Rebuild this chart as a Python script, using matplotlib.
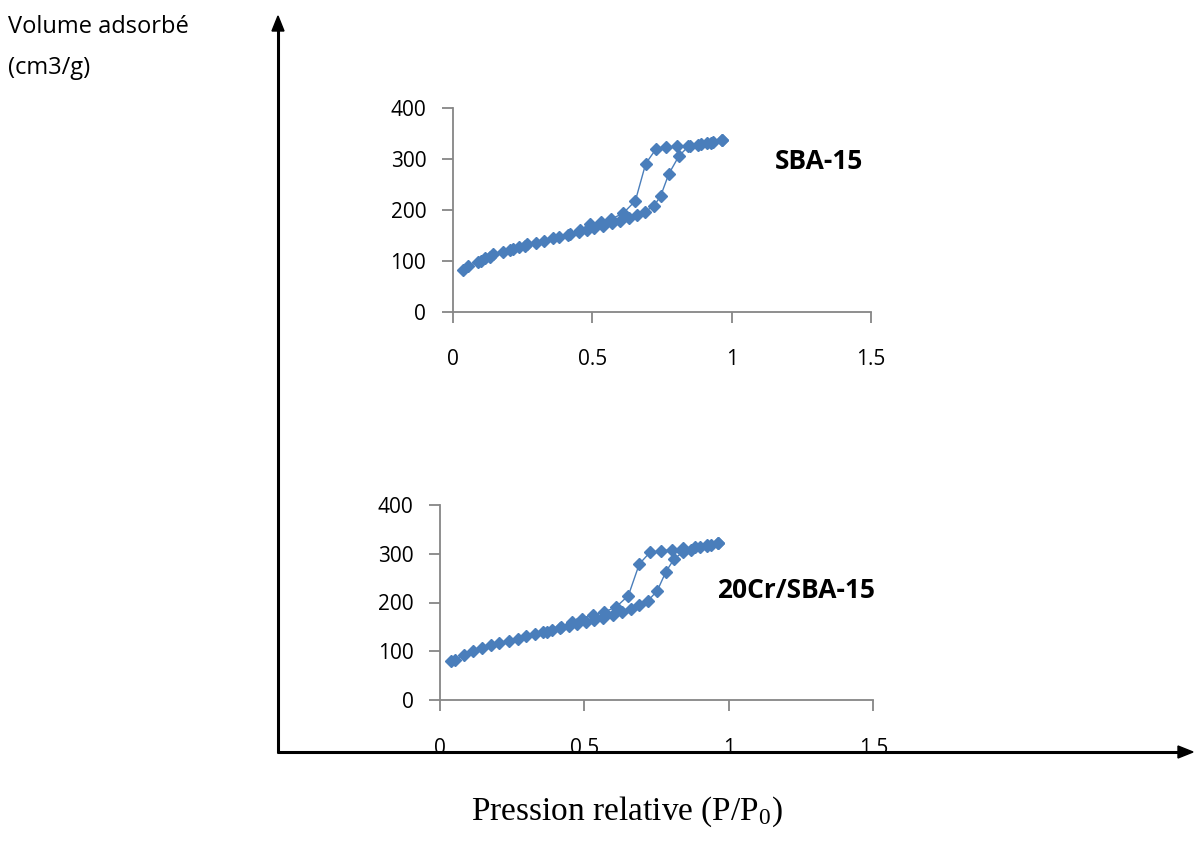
import matplotlib
matplotlib.use("Agg")
import matplotlib.pyplot as plt

# ---- data: SBA-15 ----
sba_ads_x = [0.036, 0.056, 0.092, 0.100, 0.116, 0.134, 0.146, 0.179, 0.206, 0.215,
             0.239, 0.259, 0.268, 0.299, 0.329, 0.361, 0.381, 0.415, 0.454, 0.481,
             0.507, 0.538, 0.570, 0.600, 0.632, 0.660, 0.690, 0.722, 0.746, 0.775,
             0.811, 0.845, 0.881, 0.911, 0.935, 0.965]
sba_ads_y = [82, 90, 98, 100, 105, 108, 113, 117, 121, 123,
             127, 129, 133, 136, 140, 144, 146, 151, 156, 161,
             165, 169, 174, 179, 185, 190, 197, 208, 228, 271,
             306, 325, 328, 331, 333, 337]
sba_des_x = [0.965, 0.925, 0.890, 0.850, 0.803, 0.765, 0.729, 0.692, 0.655, 0.612,
             0.568, 0.531, 0.492, 0.455, 0.420]
sba_des_y = [337, 332, 329, 326, 325, 323, 320, 291, 218, 194,
             182, 177, 172, 160, 152]

# ---- data: 20Cr/SBA-15 ----
cr_ads_x = [0.037, 0.052, 0.083, 0.115, 0.147, 0.177, 0.204, 0.239, 0.269, 0.298,
            0.329, 0.358, 0.372, 0.387, 0.415, 0.448, 0.475, 0.504, 0.534, 0.565,
            0.598, 0.629, 0.660, 0.689, 0.719, 0.752, 0.782, 0.810, 0.840, 0.868,
            0.900, 0.925, 0.937, 0.961]
cr_ads_y = [79, 83, 93, 100, 106, 112, 116, 122, 126, 131,
            135, 139, 140, 143, 148, 152, 155, 159, 164, 168,
            174, 180, 187, 194, 203, 224, 263, 289, 303, 308,
            313, 316, 317, 323]
cr_des_x = [0.961, 0.925, 0.883, 0.842, 0.804, 0.764, 0.727, 0.690, 0.652, 0.608,
            0.569, 0.531, 0.490, 0.456, 0.420]
cr_des_y = [323, 318, 314, 311, 308, 306, 303, 279, 214, 190,
            181, 174, 167, 159, 150]

x_ticks = [0, 0.5, 1, 1.5]
x_ticklabels = ["0", "0.5", "1", "1.5"]
y_ticks = [0, 100, 200, 300, 400]
y_ticklabels = ["0", "100", "200", "300", "400"]

FONT = "Open Sans"
BLUE = "#4A7EBB"
GRAY = "#868686"
W, H = 1195, 857

fig = plt.figure(figsize=(W / 100, H / 100), dpi=100)

# Overlay for arrows/axis titles (pixel coordinates)
ov = fig.add_axes([0, 0, 1, 1])
ov.set_xlim(0, W)
ov.set_ylim(H, 0)
ov.axis("off")
ov.plot([278, 278], [753, 30], color="black", lw=2.2, solid_capstyle="butt")
ov.plot([277, 1180], [752, 752], color="black", lw=2.2, solid_capstyle="butt")
ov.fill([272, 284, 278], [31, 31, 16], color="black")
ov.fill([1178, 1178, 1193], [746, 758, 752], color="black")
ov.text(8, 27, "Volume adsorbé", fontsize=17, family=FONT, va="center", ha="left")
ov.text(8, 68, "(cm3/g)", fontsize=17, family=FONT, va="center", ha="left")
ov.text(627, 812, "Pression relative (P/P$\\mathregular{_0}$)", fontsize=24,
        family="Liberation Serif", va="center", ha="center")


def make_axes(rect, ax_x, ax_y, dx, dy, label, lx, ly):
    ax = fig.add_axes(rect)
    ax.patch.set_alpha(0)
    for s in ("top", "right"):
        ax.spines[s].set_visible(False)
    for s in ("left", "bottom"):
        ax.spines[s].set_color(GRAY)
        ax.spines[s].set_linewidth(1.3)
    ax.plot(ax_x, ax_y, color=BLUE, lw=1.0, marker="D", ms=6.5,
            mfc=BLUE, mec=BLUE, clip_on=False)
    ax.plot(dx, dy, color=BLUE, lw=1.0, marker="D", ms=6.5,
            mfc=BLUE, mec=BLUE, clip_on=False)
    ax.set_xlim(0, 1.5)
    ax.set_ylim(0, 400)
    ax.set_xticks(x_ticks)
    ax.set_xticklabels(x_ticklabels)
    ax.set_yticks(y_ticks)
    ax.set_yticklabels(y_ticklabels)
    ax.tick_params(axis="x", direction="out", length=8, width=1.3, color=GRAY,
                   pad=19, labelsize=15)
    ax.tick_params(axis="y", direction="out", length=8, width=1.3, color=GRAY,
                   pad=11, labelsize=15)
    for t in ax.get_xticklabels() + ax.get_yticklabels():
        t.set_family(FONT)
    ax.text(lx, ly, label, transform=ax.transData, fontsize=19, family=FONT,
            fontweight="bold", ha="left", va="center")
    return ax


make_axes([452.7 / W, 1 - 311.7 / H, (871 - 452.7) / W, (311.7 - 108.3) / H],
          sba_ads_x, sba_ads_y, sba_des_x, sba_des_y, "SBA-15", 1.155, 295)
make_axes([440 / W, 1 - 700 / H, (873.3 - 440) / W, (700 - 505) / H],
          cr_ads_x, cr_ads_y, cr_des_x, cr_des_y, "20Cr/SBA-15", 0.96, 225)

fig.savefig("out.png", dpi=100)
